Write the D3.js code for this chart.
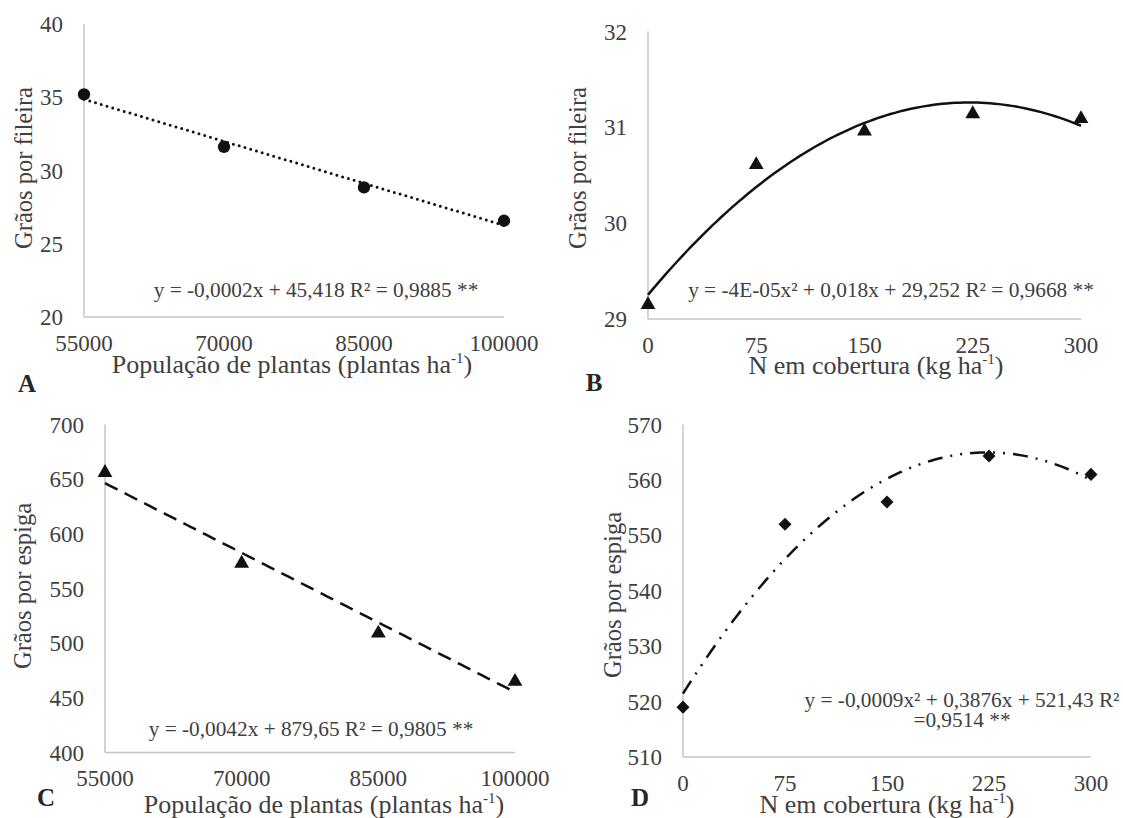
<!DOCTYPE html>
<html>
<head>
<meta charset="utf-8">
<script src="https://cdn.jsdelivr.net/npm/d3@7/dist/d3.min.js"></script>
<style>
  html, body { margin: 0; padding: 0; background: #fff; }
  svg { display: block; }
  svg text { font-family: "Times New Roman", Tinos, "Liberation Serif", "DejaVu Serif", serif; }
  .tick-label { font-size: 23px; fill: #404040; }
  .axis-title { font-size: 26px; fill: #404040; }
  .y-title { font-size: 24.5px; fill: #404040; }
  .eq { font-size: 21.3px; fill: #404040; }
  .panel-letter { font-size: 25px; font-weight: bold; fill: #262626; }
</style>
</head>
<body>
<svg id="chart" width="1123" height="818"></svg>
<script>
// ---------- data ----------
const popPlantas = [55000, 70000, 85000, 100000];
const nCobertura = [0, 75, 150, 225, 300];

const graosFileiraPop = [35.2, 31.62, 28.85, 26.57];   // A
const graosFileiraN = [29.15, 30.61, 30.96, 31.14, 31.09]; // B
const graosEspigaPop = [656, 573, 509, 465];           // C
const graosEspigaN = [519, 552, 556, 564.3, 561];      // D

const yTicksA = [20, 25, 30, 35, 40];
const yTicksB = [29, 30, 31, 32];
const yTicksC = [400, 450, 500, 550, 600, 650, 700];
const yTicksD = [510, 520, 530, 540, 550, 560, 570];

const eqA = ["y = -0,0002x + 45,418 R² = 0,9885 **"];
const eqB = ["y = -4E-05x² + 0,018x + 29,252 R² = 0,9668 **"];
const eqC = ["y = -0,0042x + 879,65 R² = 0,9805 **"];
const eqD = ["y = -0,0009x² + 0,3876x + 521,43 R²", "=0,9514 **"];

const titlePop = "População de plantas (plantas ha";
const titleN = "N em cobertura (kg ha";

// ---------- panel layout ----------
const panels = [
  {
    letter: "A", xs: popPlantas, ys: graosFileiraPop, yTicks: yTicksA, eq: eqA,
    xRange: [84, 504], yRange: [317, 24], yDomain: [20, 40],
    xTitle: titlePop, yTitle: "Grãos por fileira",
    xLabelY: 343, xTitlePos: [292, 373], yTitlePos: [23, 168],
    letterPos: [27, 383], eqPos: [316, 290],
    degree: 1, marker: "circle", dash: "0,6", lineWidth: 3
  },
  {
    letter: "B", xs: nCobertura, ys: graosFileiraN, yTicks: yTicksB, eq: eqB,
    xRange: [648, 1081], yRange: [319, 31.5], yDomain: [29, 32],
    xTitle: titleN, yTitle: "Grãos por fileira",
    xLabelY: 345, xTitlePos: [876, 374], yTitlePos: [577, 168],
    letterPos: [594, 382], eqPos: [891, 290],
    degree: 2, marker: "triangle", dash: null, lineWidth: 2.5
  },
  {
    letter: "C", xs: popPlantas, ys: graosEspigaPop, yTicks: yTicksC, eq: eqC,
    xRange: [105, 515], yRange: [752.5, 424.5], yDomain: [400, 700],
    xTitle: titlePop, yTitle: "Grãos por espiga",
    xLabelY: 778, xTitlePos: [324, 813], yTitlePos: [22, 586],
    letterPos: [46, 797], eqPos: [311, 729],
    degree: 1, marker: "triangle", dash: "14,8", lineWidth: 2.5
  },
  {
    letter: "D", xs: nCobertura, ys: graosEspigaN, yTicks: yTicksD, eq: eqD,
    xRange: [683, 1091], yRange: [757, 424.5], yDomain: [510, 570],
    xTitle: titleN, yTitle: "Grãos por espiga",
    xLabelY: 783, xTitlePos: [887, 813], yTitlePos: [612, 595],
    letterPos: [640, 797], eqPos: [962, 700],
    degree: 2, marker: "diamond", dash: "15,8,2,8,2,8", lineWidth: 2.5
  }
];

const svg = d3.select("#chart");
panels.forEach(drawPanel);

function drawPanel(p) {
  const g = svg.append("g");
  const x = d3.scaleLinear().domain(d3.extent(p.xs)).range(p.xRange);
  const y = d3.scaleLinear().domain(p.yDomain).range(p.yRange);

  // axes: plain light grey lines, no tick marks
  g.append("line")
    .attr("x1", x.range()[0]).attr("x2", x.range()[0])
    .attr("y1", y.range()[1]).attr("y2", y.range()[0])
    .attr("stroke", "#c4c4c4").attr("stroke-width", 1.5);
  g.append("line")
    .attr("x1", x.range()[0]).attr("x2", x.range()[1])
    .attr("y1", y.range()[0]).attr("y2", y.range()[0])
    .attr("stroke", "#c4c4c4").attr("stroke-width", 1.5);

  g.selectAll(".ylab").data(p.yTicks).join("text")
    .attr("class", "tick-label")
    .attr("x", x.range()[0] - 21)
    .attr("y", (d) => y(d))
    .attr("dy", "0.35em")
    .attr("text-anchor", "end")
    .text((d) => d);

  g.selectAll(".xlab").data(p.xs).join("text")
    .attr("class", "tick-label")
    .attr("x", (d) => x(d))
    .attr("y", p.xLabelY)
    .attr("dy", "0.35em")
    .attr("text-anchor", "middle")
    .text((d) => d);

  // titles (with superscript -1)
  const xt = g.append("text")
    .attr("class", "axis-title")
    .attr("x", p.xTitlePos[0])
    .attr("y", p.xTitlePos[1])
    .attr("text-anchor", "middle");
  xt.append("tspan").text(p.xTitle);
  xt.append("tspan").attr("font-size", "15px").attr("dy", -10).text("-1");
  xt.append("tspan").attr("dy", 10).text(")");

  g.append("text")
    .attr("class", "y-title")
    .attr("transform", `translate(${p.yTitlePos[0]},${p.yTitlePos[1]}) rotate(-90)`)
    .attr("dy", "0.35em")
    .attr("text-anchor", "middle")
    .text(p.yTitle);

  g.append("text")
    .attr("class", "panel-letter")
    .attr("x", p.letterPos[0]).attr("y", p.letterPos[1])
    .attr("dy", "0.35em")
    .attr("text-anchor", "middle")
    .text(p.letter);

  // least-squares trend line (as the spreadsheet trendline)
  const coef = polyFit(p.xs, p.ys, p.degree);
  const [x0, x1] = x.domain();
  const trend = d3.range(0, 101).map((i) => {
    const xv = x0 + ((x1 - x0) * i) / 100;
    return [xv, coef.reduce((s, c, k) => s + c * Math.pow(xv, k), 0)];
  });
  g.append("path")
    .datum(trend)
    .attr("fill", "none")
    .attr("stroke", "#111")
    .attr("stroke-width", p.lineWidth)
    .attr("stroke-linecap", p.dash === "0,6" ? "round" : "butt")
    .attr("stroke-dasharray", p.dash)
    .attr("d", d3.line().x((d) => x(d[0])).y((d) => y(d[1])));

  // markers
  const symType = { circle: d3.symbolCircle, triangle: d3.symbolTriangle, diamond: d3.symbolSquare }[p.marker];
  const symSize = { circle: 120, triangle: 95, diamond: 85 }[p.marker];
  g.selectAll(".pt").data(p.xs.map((v, i) => [v, p.ys[i]])).join("path")
    .attr("transform", (d) => `translate(${x(d[0])},${y(d[1])})` + (p.marker === "diamond" ? " rotate(45)" : ""))
    .attr("d", d3.symbol().type(symType).size(symSize))
    .attr("fill", "#111");

  // equation
  g.selectAll(".eq").data(p.eq).join("text")
    .attr("class", "eq")
    .attr("x", p.eqPos[0])
    .attr("y", (d, i) => p.eqPos[1] + i * 20)
    .attr("dy", "0.35em")
    .attr("text-anchor", "middle")
    .text((d) => d);
}

/* ---------- helpers ---------- */
// ordinary least squares polynomial fit; returns [c0, c1, ...]
function polyFit(xs, ys, degree) {
  const n = degree + 1;
  const xm = d3.mean(xs);
  const sc = d3.max(xs, (v) => Math.abs(v - xm)) || 1;
  const t = xs.map((v) => (v - xm) / sc);
  const A = [];
  for (let r = 0; r < n; r++) {
    A.push([]);
    for (let c = 0; c < n; c++) A[r].push(d3.sum(t, (v) => Math.pow(v, r + c)));
    A[r].push(d3.sum(t, (v, i) => Math.pow(v, r) * ys[i]));
  }
  for (let i = 0; i < n; i++) {
    for (let k = i + 1; k < n; k++) {
      const f = A[k][i] / A[i][i];
      for (let j = i; j <= n; j++) A[k][j] -= f * A[i][j];
    }
  }
  const b = new Array(n).fill(0);
  for (let i = n - 1; i >= 0; i--) {
    let s = A[i][n];
    for (let j = i + 1; j < n; j++) s -= A[i][j] * b[j];
    b[i] = s / A[i][i];
  }
  // expand polynomial in t = (x - xm) / sc back to powers of x
  const out = new Array(n).fill(0);
  for (let k = 0; k < n; k++) {
    for (let j = 0; j <= k; j++) {
      const binom = factorial(k) / (factorial(j) * factorial(k - j));
      out[j] += b[k] * binom * Math.pow(-xm, k - j) / Math.pow(sc, k);
    }
  }
  return out;
}

function factorial(m) {
  return m <= 1 ? 1 : m * factorial(m - 1);
}
</script>
</body>
</html>
